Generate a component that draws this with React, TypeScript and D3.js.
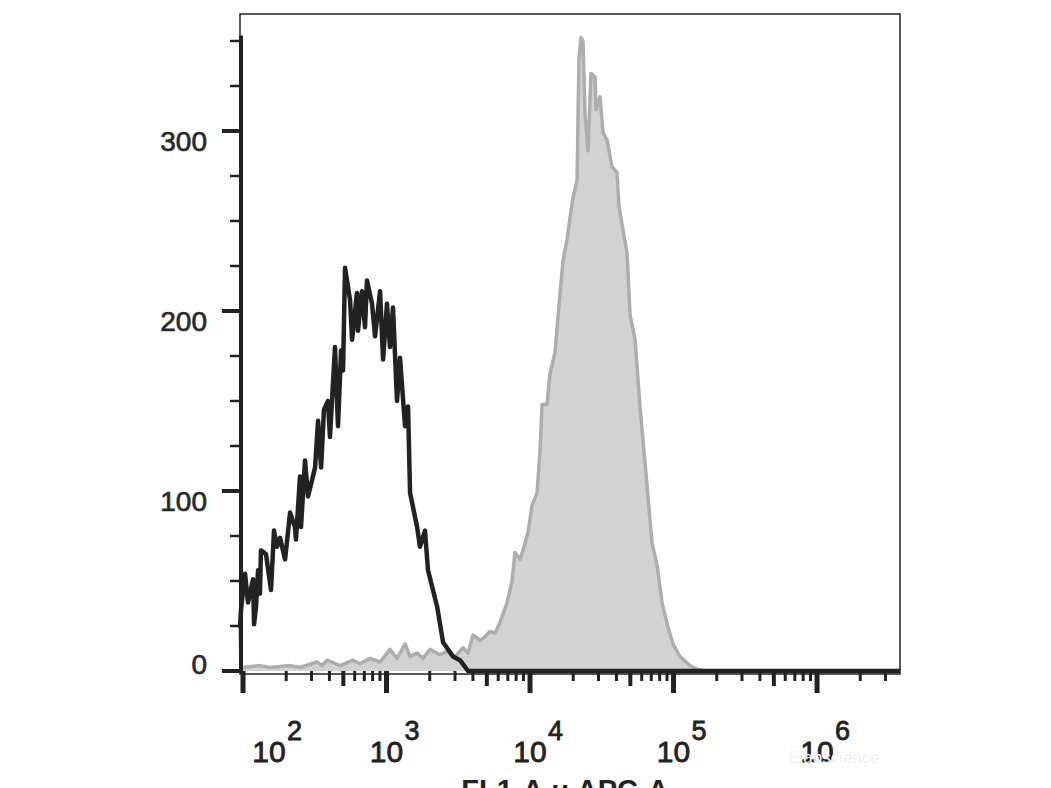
import * as d3 from "d3";
import { useEffect, useRef } from "react";

// isotype control (black outline), x in log10 units
const isoLog = [
	1.979, 1.986, 2.014, 2.035, 2.07, 2.077, 2.091, 2.105, 2.118, 2.125, 2.16, 2.195, 2.216, 2.237, 2.258,
	2.293, 2.328, 2.362, 2.369, 2.397, 2.404, 2.432, 2.453, 2.502, 2.523, 2.544, 2.564, 2.592, 2.606, 2.641,
	2.662, 2.683, 2.697, 2.711, 2.746, 2.76, 2.794, 2.801, 2.829, 2.85, 2.864, 2.899, 2.92, 2.955, 2.976,
	3.003, 3.024, 3.045, 3.073, 3.094, 3.129, 3.15, 3.164, 3.213, 3.233, 3.268, 3.289, 3.352, 3.394, 3.463,
	3.512, 3.568, 6.578,
];
const isoCount = [
	24, 34, 54, 38, 51, 26, 36, 56, 43, 67, 65, 45, 78, 69, 74,
	62, 88, 80, 73, 108, 80, 117, 97, 113, 139, 113, 145, 150, 130, 180,
	136, 178, 167, 224, 206, 184, 210, 189, 211, 191, 217, 204, 186, 211, 173,
	204, 180, 202, 150, 174, 136, 147, 99, 80, 69, 78, 56, 36, 16, 8,
	6, 0, 0,
];

// stained sample (grey filled)
const stainLog = [
	1.979, 1.986, 2.0, 2.118, 2.188, 2.328, 2.397, 2.516, 2.551, 2.585, 2.676, 2.767, 2.815, 2.885, 2.955,
	3.024, 3.073, 3.129, 3.164, 3.213, 3.254, 3.303, 3.373, 3.422, 3.477, 3.533, 3.568, 3.603, 3.652, 3.686,
	3.721, 3.756, 3.791, 3.84, 3.875, 3.895, 3.93, 3.951, 3.986, 4.014, 4.049, 4.07, 4.084, 4.118, 4.139,
	4.174, 4.209, 4.23, 4.258, 4.279, 4.3, 4.328, 4.334, 4.341, 4.355, 4.369, 4.383, 4.404, 4.425, 4.453,
	4.46, 4.488, 4.509, 4.537, 4.571, 4.606, 4.62, 4.676, 4.697, 4.732, 4.767, 4.801, 4.85, 4.885, 4.92,
	4.962, 4.997, 5.045, 5.115, 5.164, 5.22, 6.578,
];
const stainCount = [
	24, 2, 2, 3, 2, 3, 2, 5, 3, 6, 3, 6, 4, 7, 5,
	12, 7, 15, 8, 10, 7, 12, 9, 11, 8, 13, 10, 20, 17, 19,
	22, 21, 27, 38, 50, 66, 62, 67, 77, 92, 99, 123, 148, 148, 165,
	177, 210, 228, 240, 252, 263, 273, 306, 340, 352, 350, 310, 289, 332, 330,
	312, 319, 299, 295, 280, 277, 258, 232, 198, 184, 146, 116, 71, 59, 38,
	24, 15, 8, 3, 1, 0, 0,
];

const yTickLabels = [0, 100, 200, 300];
const xDecades = [2, 3, 4, 5, 6];
const xAxisTitle = "FL1-A :: APC-A";

const FONT = "'Liberation Sans', Arial, sans-serif";

const App = () => {
	const svgRef = useRef<SVGSVGElement | null>(null);

	useEffect(() => {
		if (!svgRef.current) return;
		const svg = d3.select(svgRef.current);
		svg.selectAll("*").remove();

		const left = 240;
		const right = 900;
		const top = 14;
		const base = 671;

		const x = d3.scaleLog().domain([10 ** 1.979, 10 ** 6.578]).range([left, right]);
		const y = d3.scaleLinear().domain([0, 353]).range([base, 35.6]);

		const stain = stainLog.map((l, i) => ({ x: 10 ** l, v: stainCount[i] }));
		const iso = isoLog.map((l, i) => ({ x: 10 ** l, v: isoCount[i] }));

		const area = d3
			.area<{ x: number; v: number }>()
			.x((d) => x(d.x))
			.y0(y(0))
			.y1((d) => y(d.v));
		const line = d3
			.line<{ x: number; v: number }>()
			.x((d) => x(d.x))
			.y((d) => y(d.v));

		svg.append("path").attr("d", area(stain)).attr("fill", "#d2d2d2");
		svg
			.append("path")
			.attr("d", line(stain))
			.attr("fill", "none")
			.attr("stroke", "#adadad")
			.attr("stroke-width", 3.5)
			.attr("stroke-linejoin", "round");

		svg
			.append("path")
			.attr("d", line(iso))
			.attr("fill", "none")
			.attr("stroke", "#222")
			.attr("stroke-width", 4.5)
			.attr("stroke-linejoin", "round");

		// frame
		svg
			.append("rect")
			.attr("x", left)
			.attr("y", top)
			.attr("width", right - left)
			.attr("height", base + 3 - top)
			.attr("fill", "none")
			.attr("stroke", "#222")
			.attr("stroke-width", 1.5);

		// y axis
		svg
			.append("line")
			.attr("x1", left + 1)
			.attr("x2", left + 1)
			.attr("y1", y(353))
			.attr("y2", base + 2)
			.attr("stroke", "#222")
			.attr("stroke-width", 4);

		d3.range(0, 351, 25).forEach((v) => {
			const major = v % 100 === 0;
			svg
				.append("line")
				.attr("x1", major ? left - 18 : left - 10)
				.attr("x2", left + 1)
				.attr("y1", y(v))
				.attr("y2", y(v))
				.attr("stroke", "#222")
				.attr("stroke-width", major ? 4 : 2.5);
		});

		yTickLabels.forEach((v) => {
			svg
				.append("text")
				.attr("x", 207)
				.attr("y", v === 0 ? y(v) + 3 : y(v) + 20)
				.attr("text-anchor", "end")
				.style("font-family", FONT)
				.style("font-size", "28px")
				.style("fill", "#2a2a2a")
				.style("stroke", "#2a2a2a")
				.style("stroke-width", "0.7px")
				.text(v);
		});

		// x ticks
		xDecades.forEach((k) => {
			d3.range(1, 10).forEach((m) => {
				const val = m * 10 ** k;
				if (val > x.domain()[1]) return;
				const px = x(val);
				const len = m === 1 ? 22 : m === 5 ? 15 : 10;
				svg
					.append("line")
					.attr("x1", px)
					.attr("x2", px)
					.attr("y1", base)
					.attr("y2", base + len)
					.attr("stroke", "#222")
					.attr("stroke-width", m === 1 ? 5 : m === 5 ? 4 : 3);
			});
		});

		xDecades.forEach((k, i) => {
			const cx = i === 0 ? Math.max(x(10 ** k), left + 29) : x(10 ** k);
			svg
				.append("text")
				.attr("x", cx)
				.attr("y", 762)
				.attr("text-anchor", "middle")
				.style("font-family", FONT)
				.style("font-size", "30px")
				.style("fill", "#222")
				.style("stroke", "#222")
				.style("stroke-width", "0.8px")
				.text("10");
			svg
				.append("text")
				.attr("x", cx + 18)
				.attr("y", 740)
				.style("font-family", FONT)
				.style("font-size", "27px")
				.style("fill", "#222")
				.style("stroke", "#222")
				.style("stroke-width", "0.8px")
				.text(k);
		});

		svg
			.append("text")
			.attr("x", 565)
			.attr("y", 800)
			.attr("text-anchor", "middle")
			.style("font-family", FONT)
			.style("font-size", "29px")
			.style("font-weight", "bold")
			.style("fill", "#222")
			.text(xAxisTitle);

		svg
			.append("text")
			.attr("x", 834)
			.attr("y", 763)
			.attr("text-anchor", "middle")
			.style("font-family", FONT)
			.style("font-size", "17px")
			.style("fill", "#f0f0f0")
			.text("Elabscience");
	}, []);

	return (
		<svg
			ref={svgRef}
			width={1051}
			height={788}
			style={{ position: "absolute", left: 0, top: 0, background: "#fff" }}
		/>
	);
};

export default App;
